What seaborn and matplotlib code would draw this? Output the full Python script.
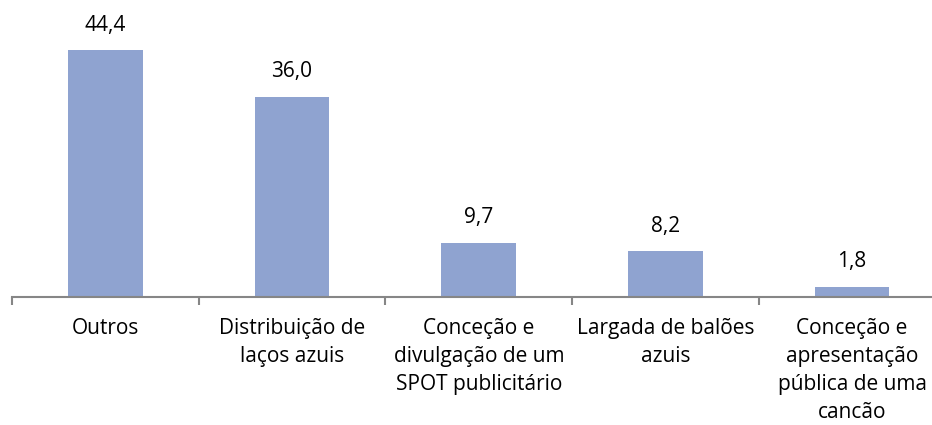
import matplotlib
matplotlib.use("Agg")
import matplotlib.pyplot as plt
import seaborn as sns
import pandas as pd

# Dados
categorias = [
    "Outros",
    "Distribuição de\nlaços azuis",
    "Conceção e\ndivulgação de um\nSPOT publicitário",
    "Largada de balões\nazuis",
    "Conceção e\napresentação\npública de uma\ncancão",
]
valores = [44.4, 36.0, 9.7, 8.2, 1.8]
rotulos = ["44,4", "36,0", "9,7", "8,2", "1,8"]

COR_BARRA = "#8FA3D0"
COR_EIXO = "#868686"


def main():
    sns.set_theme(style="white")
    plt.rcParams["font.family"] = ["Open Sans", "DejaVu Sans"]

    df = pd.DataFrame({"categoria": categorias, "valor": valores})

    fig = plt.figure(figsize=(9.32, 4.25), dpi=100)
    ax = fig.add_axes([12 / 932, 1 - 297 / 425, (931 - 12) / 932, (297 - 19) / 425])

    sns.barplot(data=df, x="categoria", y="valor", color=COR_BARRA,
                width=0.4, saturation=1, linewidth=0, ax=ax)

    # Rótulos de valor
    for i, (v, txt) in enumerate(zip(valores, rotulos)):
        ax.annotate(txt, (i, v), xytext=(0, 10.5), textcoords="offset points",
                    ha="center", va="bottom", fontsize=15, color="#000000")

    ax.set_ylim(0, 50)
    ax.set_xlim(-0.5, -0.5 + (931 - 12) / 186.7)
    ax.set_xlabel("")
    ax.set_ylabel("")
    ax.set_yticks([])

    # Eixo X
    for lado in ["top", "right", "left"]:
        ax.spines[lado].set_visible(False)
    ax.spines["bottom"].set_color(COR_EIXO)
    ax.spines["bottom"].set_linewidth(1.5)

    ax.set_xticks(range(len(categorias)))
    ax.set_xticklabels(categorias, fontsize=15, linespacing=1.45, va="top",
                       color="#000000")
    ax.tick_params(axis="x", which="major", length=0, pad=15)
    ax.set_xticks([i - 0.5 for i in range(len(categorias))], minor=True)
    ax.tick_params(axis="x", which="minor", bottom=True, length=6,
                   width=1.5, color=COR_EIXO, direction="out")

    fig.savefig("out.png", dpi=100)
    plt.close(fig)


if __name__ == "__main__":
    main()
